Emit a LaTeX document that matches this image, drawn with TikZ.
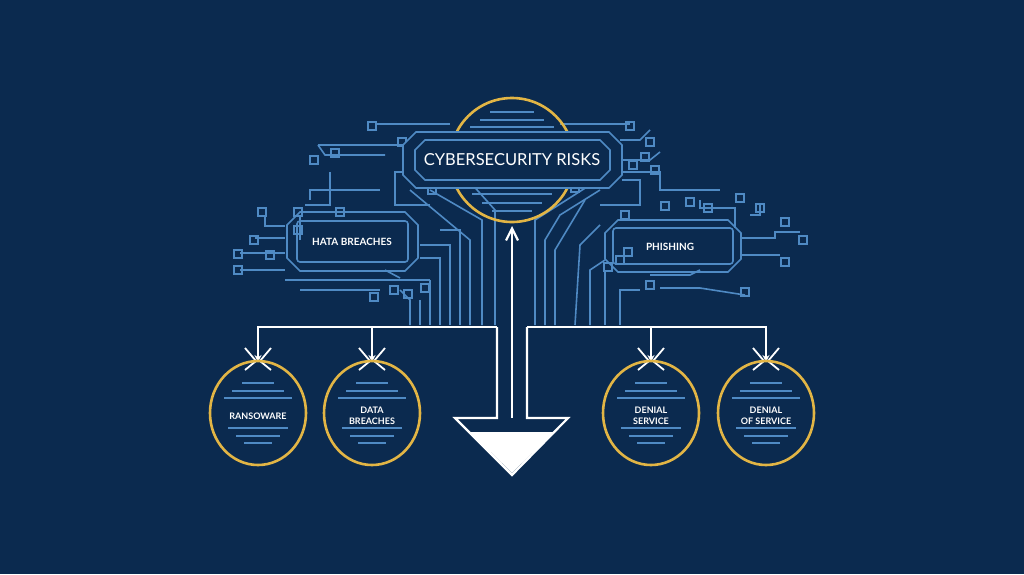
\documentclass[tikz,border=0pt]{standalone}
\usepackage{fontspec}
\setmainfont{Lato}
\usetikzlibrary{arrows.meta}
\definecolor{bg}{HTML}{0B2A4F}
\definecolor{trace}{HTML}{4F8AC4}
\definecolor{gold}{HTML}{E2B545}
\tikzset{
 tr/.style={draw=trace,line width=1.6pt},
 pad/.style={draw=trace,line width=1.4pt,minimum size=8pt,inner sep=0pt},
 goldring/.style={draw=gold,line width=2.6pt},
 lbl/.style={text=white,font=\bfseries,align=center},
 wl/.style={draw=white,line width=2.2pt},
}
\begin{document}
\begin{tikzpicture}[x=1pt,y=-1pt]
\fill[bg] (0,0) rectangle (1024,574);
\useasboundingbox (0,0) rectangle (1024,574);
% --- circuit traces left
\foreach \p/\q in {
 {(375,124)}/{(450,124)},{(318,145)}/{(405,145)},{(300,240)}/{(300,215)},
 {(255,238)}/{(285,238)},{(240,253)}/{(285,253)},{(240,270)}/{(285,270)},
 {(285,280)}/{(430,280)},{(300,290)}/{(380,290)}}{\draw[tr] \p -- \q;}
\draw[tr] (318,145) -- (325,155) -- (385,155);
\draw[tr] (310,200) -- (310,190) -- (380,190);
\draw[tr] (305,205) -- (330,205) -- (330,172);
\draw[tr] (285,226) -- (265,226) -- (265,215);
\draw[tr] (420,300) -- (420,325); \draw[tr] (430,280) -- (430,325);
\draw[tr] (440,230) -- (460,230) -- (460,325);
\draw[tr] (420,245) -- (450,245) -- (450,325);
\draw[tr] (420,258) -- (440,258) -- (440,325);
\draw[tr] (403,172) -- (395,172) -- (395,205) -- (430,205);
\draw[tr] (440,182) -- (470,182) -- (495,210) -- (495,325);
\draw[tr] (410,190) -- (470,240) -- (470,325);
\draw[tr] (430,190) -- (482,220) -- (482,325);
\draw[tr] (400,290) -- (410,300) -- (410,325);
\draw[tr] (385,270) -- (400,278);
% right traces
\draw[tr] (560,124) -- (630,124);
\draw[tr] (620,140) -- (640,140) -- (650,130);
\draw[tr] (622,160) -- (650,160) -- (660,152);
\draw[tr] (622,180) -- (640,180) -- (640,205) -- (600,205);
\draw[tr] (622,172) -- (660,172) -- (660,190) -- (680,190);
\draw[tr] (600,190) -- (560,215) -- (545,240) -- (545,325);
\draw[tr] (590,185) -- (535,220) -- (535,325);
\draw[tr] (585,200) -- (555,250) -- (555,325);
\draw[tr] (600,225) -- (580,245) -- (575,325);
\draw[tr] (605,260) -- (590,270) -- (590,325);
\draw[tr] (605,270) -- (605,325);
\draw[tr] (640,290) -- (620,290) -- (620,325);
\draw[tr] (660,288) -- (700,288) -- (745,295);
\draw[tr] (650,275) -- (690,275) -- (700,270);
\draw[tr] (740,238) -- (775,238) -- (775,232) -- (800,232);
\draw[tr] (740,255) -- (780,255);
\draw[tr] (735,228) -- (735,208) -- (700,208) -- (700,200);
\draw[tr] (750,215) -- (760,215) -- (760,205);
\draw[tr] (680,190) -- (720,190);
% pads
\foreach \c in {(372,126),(402,142),(335,153),(314,160),(298,212),(262,212),(340,212),
 (254,240),(238,254),(238,270),(270,255),(298,230),(374,297),(394,290),(408,294),(425,288),
 (445,162),(432,190),
 (570,142),(630,126),(650,142),(655,170),(645,157),(633,165),(560,175),(575,188),(625,215),
 (665,206),(690,202),(708,208),(740,198),(760,208),(785,222),(803,240),(785,262),(745,292),(650,285),(620,260),(628,252),(608,267)}
 {\node[pad] at \c {};}
% --- central box and ring
\draw[goldring] (512,160) circle (62);
\fill[bg] (416,132) -- (609,132) -- (622,145) -- (622,175) -- (609,188) -- (416,188) -- (403,175) -- (403,145) -- cycle;
\draw[tr] (416,132) -- (609,132) -- (622,145) -- (622,175) -- (609,188) -- (416,188) -- (403,175) -- (403,145) -- cycle;
\draw[tr] (425,140) -- (600,140) -- (610,150) -- (610,170) -- (600,180) -- (425,180) -- (415,170) -- (415,150) -- cycle;
\foreach \y/\w in {112/22,120/32,127/42} {\draw[tr,line width=1.1pt] (512-\w,\y) -- (512+\w,\y);}
\foreach \y/\w in {194/40,203/30,211/20} {\draw[tr,line width=1.1pt] (512-\w,\y) -- (512+\w,\y);}
\node[text=white,font=\fontsize{16.5}{17}\selectfont] (main) at (512,160) {CYBERSECURITY RISKS};
% side boxes
\draw[tr] (300,212) -- (405,212) -- (418,225) -- (418,258) -- (405,271) -- (300,271) -- (287,258) -- (287,225) -- cycle;
\draw[tr,rounded corners=3pt] (297,221) rectangle (408,262);
\node[lbl,font=\bfseries\fontsize{10}{11}\selectfont] (hata) at (352,242) {HATA BREACHES};
\draw[tr] (618,220) -- (728,220) -- (741,233) -- (741,259) -- (728,272) -- (618,272) -- (605,259) -- (605,233) -- cycle;
\draw[tr,rounded corners=3pt] (613,228) rectangle (733,264);
\node[lbl,font=\bfseries\fontsize{10}{11}\selectfont] (phish) at (670,247) {PHISHING};
% --- white arrows
\coordinate (top) at (512,226);
\coordinate (bot) at (512,418);
\draw[wl,-{Straight Barb[open,length=12pt,width=12pt]}] (bot) -- (top);
\fill[white] (470,432) -- (554,432) -- (512,473) -- cycle;
\draw[wl,line join=miter] (497,327) -- (497,418) -- (455,418) -- (512,475) -- (568,418) -- (527,418) -- (527,327);
\draw[wl] (497,327) -- (258,327) -- (258,352);
\draw[wl] (372,327) -- (372,352);
\draw[wl] (527,327) -- (766,327) -- (766,352);
\draw[wl] (651,327) -- (651,352);
% --- circles
\foreach \n/\x/\t in {rans/258/RANSOWARE,data/372/{DATA\\BREACHES},den/651/{DENIAL\\SERVICE},dos/766/{DENIAL\\OF SERVICE}}{
 \draw[wl,-{Stealth[length=7pt,width=7pt]}] (\x,345) -- (\x,362);
 \draw[wl,line width=1.8pt] (\x-13,348) -- (\x-2,361) -- (\x-13,370);
 \draw[wl,line width=1.8pt] (\x+13,348) -- (\x+2,361) -- (\x+13,370);
 \draw[goldring] (\x,413) ellipse (48 and 52);
 \foreach \y/\w in {383/16,391/26,398/34,428/30,436/22,443/14} {\draw[tr,line width=1.1pt] (\x-\w,\y) -- (\x+\w,\y);}
 \node[lbl,font=\bfseries\fontsize{9}{11}\selectfont] (\n) at (\x,416) {\t};
}
\end{tikzpicture}
\end{document}
